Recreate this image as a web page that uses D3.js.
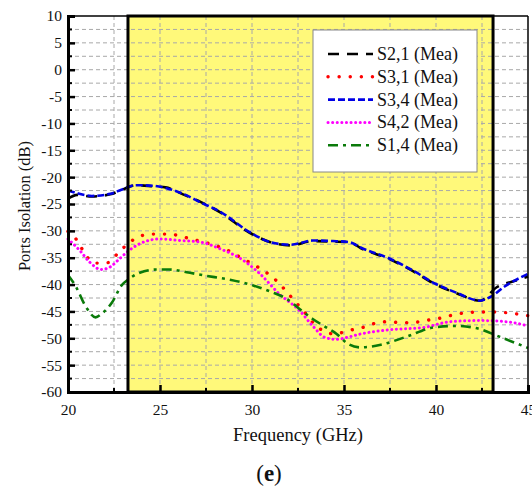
<!DOCTYPE html>
<html>
<head>
<meta charset="utf-8">
<script src="https://cdn.jsdelivr.net/npm/d3@7"></script>
<style>
  body { margin: 0; background: #fff; }
</style>
</head>
<body>
<svg id="chart" width="532" height="486"></svg>
<script>
// frequency (GHz) / isolation (dB) pairs
const s21 = [[20,-24],[20.5,-23.3],[21.3,-23.6],[22.3,-23.2],[22.9,-22.4],[23.7,-21.5],[24.6,-21.7],[25.3,-21.9],[26.25,-23.2],[27.2,-24.6],[28.3,-26.6],[29.9,-30.4],[31,-32.1],[32.1,-32.7],[33.3,-31.9],[34.4,-32],[35.3,-32.1],[35.9,-33.2],[37.5,-35.3],[38.75,-37.5],[40,-40],[41.1,-41.6],[42.4,-43],[43.3,-40.5],[44.4,-39.2],[45,-38.5]];
const s31 = [[20,-30.1],[20.56,-32.1],[20.9,-34.2],[21.5,-36],[22.2,-35.9],[22.7,-34.2],[23.3,-32.3],[23.9,-31],[24.6,-30.6],[25.4,-30.6],[26.8,-31.6],[27.5,-32.2],[28.9,-34],[29.5,-35.2],[30.2,-36.5],[31.3,-39.2],[31.8,-41],[32.3,-43],[32.8,-44.9],[33.4,-47.4],[34.5,-49.2],[35.2,-48.6],[36,-48],[36.7,-47.2],[37.4,-46.9],[38.1,-47.1],[38.9,-47],[39.6,-46.6],[40.3,-46.2],[41,-45.6],[41.75,-45.2],[42.5,-45.1],[43.2,-45.1],[44,-45.3],[45,-45.8]];
const s34 = [[20,-22.5],[20.5,-23],[21.3,-23.5],[22.3,-23.1],[22.9,-22.35],[23.7,-21.5],[24.6,-21.6],[25.4,-22.1],[26.25,-23.1],[27.2,-24.7],[28.3,-26.5],[29.9,-30.3],[31,-32.1],[32.1,-32.6],[33.3,-31.8],[34.4,-31.9],[35.3,-32.1],[35.9,-33.1],[37.5,-35.2],[38.75,-37.4],[40,-39.9],[41.1,-41.5],[42.4,-43],[42.9,-42.4],[43.8,-40.2],[45,-38]];
const s42 = [[20,-31.5],[20.65,-33.7],[21.2,-35.9],[21.8,-37.2],[22.3,-36.7],[22.8,-35.2],[23.3,-33.7],[23.9,-32.4],[25,-31.5],[26.1,-31.8],[27.2,-32.1],[28.3,-33.4],[29.35,-35.1],[30.4,-37.9],[31.5,-41.8],[32.6,-44.9],[33.3,-47.7],[34,-49.9],[34.6,-50.2],[35.2,-49.8],[35.9,-49.2],[37.5,-48.4],[39.3,-48],[40.8,-46.9],[42.4,-46.7],[43.8,-46.9],[45,-47.7]];
const s14 = [[20,-38.2],[20.4,-40.2],[21,-44.3],[21.5,-46.1],[21.8,-45.5],[22.4,-43.3],[22.9,-40.2],[23.3,-39],[23.9,-37.8],[24.8,-37.2],[25.5,-37.2],[26.45,-37.7],[27.4,-38.3],[28.8,-39.1],[30.1,-40.2],[31,-41.3],[31.9,-42.7],[32.5,-44.3],[33.3,-46.4],[33.9,-47.7],[34.6,-49.2],[35.2,-51],[35.9,-51.7],[37,-51.2],[38.4,-49.7],[39.85,-48],[41.1,-47.7],[42.4,-48.3],[43.3,-49.5],[45,-51.8]];

const seriesNames = ["S2,1 (Mea)", "S3,1 (Mea)", "S3,4 (Mea)", "S4,2 (Mea)", "S1,4 (Mea)"];
const xTicks = [20, 25, 30, 35, 40, 45];
const yTicks = [10, 5, 0, -5, -10, -15, -20, -25, -30, -35, -40, -45, -50, -55, -60];
const band = [23.26, 43.1];

const series = [
  { name: seriesNames[0], data: s21, color: "#000", dash: "11,8", width: 2.6, cap: "butt" },
  { name: seriesNames[1], data: s31, color: "#ff0000", dash: "0.1,11", width: 3.4, cap: "round" },
  { name: seriesNames[2], data: s34, color: "#0000e6", dash: "7,3", width: 2.6, cap: "butt" },
  { name: seriesNames[3], data: s42, color: "#ff00ff", dash: "0.1,4.5", width: 3, cap: "round" },
  { name: seriesNames[4], data: s14, color: "#0a7a0a", dash: "10,5,3,5", width: 2.6, cap: "butt" }
];

const serif = "Liberation Serif";
const margin = { top: 16, left: 68 };
const W = 460, H = 376;
const svg = d3.select("#chart");
const g = svg.append("g").attr("transform", `translate(${margin.left},${margin.top})`);

const x = d3.scaleLinear().domain([20, 45]).range([0, W]);
const y = d3.scaleLinear().domain([-60, 10]).range([H, 0]);

// yellow band
g.append("rect")
  .attr("x", x(band[0])).attr("y", y(10))
  .attr("width", x(band[1]) - x(band[0])).attr("height", H)
  .attr("fill", "#fff97a");

// grid
const gridX = d3.range(22.5, 45, 2.5);
const gridY = d3.range(-57.5, 10, 2.5);
g.selectAll(".gx").data(gridX).enter().append("line")
  .attr("x1", d => x(d)).attr("x2", d => x(d)).attr("y1", 0).attr("y2", H)
  .attr("stroke", "#a8a8a8").attr("stroke-width", 1).attr("stroke-dasharray", "4,3");
g.selectAll(".gy").data(gridY).enter().append("line")
  .attr("x1", 0).attr("x2", W).attr("y1", d => y(d)).attr("y2", d => y(d))
  .attr("stroke", "#a8a8a8").attr("stroke-width", 1).attr("stroke-dasharray", "4,3");

// curves
const line = d3.line().x(d => x(d[0])).y(d => y(d[1])).curve(d3.curveMonotoneX);
series.forEach(s => {
  g.append("path").datum(s.data)
    .attr("d", line)
    .attr("fill", "none")
    .attr("stroke", s.color)
    .attr("stroke-width", s.width)
    .attr("stroke-dasharray", s.dash)
    .attr("stroke-linecap", s.cap);
});

// band border
g.append("rect")
  .attr("x", x(band[0])).attr("y", y(10))
  .attr("width", x(band[1]) - x(band[0])).attr("height", H)
  .attr("fill", "none").attr("stroke", "#000").attr("stroke-width", 3);

// frame: thin top/right, thick left/bottom
g.append("line").attr("x1", 0).attr("x2", W).attr("y1", 0).attr("y2", 0).attr("stroke", "#000").attr("stroke-width", 1.5);
g.append("line").attr("x1", W).attr("x2", W).attr("y1", 0).attr("y2", H).attr("stroke", "#000").attr("stroke-width", 1.5);

// axes (plain hyphen for negatives, like the original)
const xAxis = d3.axisBottom(x).tickValues(xTicks).tickSize(-7).tickPadding(12).tickFormat(d => String(d));
const yAxis = d3.axisLeft(y).tickValues(yTicks).tickSize(-7).tickPadding(6).tickFormat(d => String(d));

const gx = g.append("g").attr("transform", `translate(0,${H})`).call(xAxis);
const gy = g.append("g").call(yAxis);
[gx, gy].forEach(a => {
  a.attr("font-family", serif).attr("font-size", 15.5);
  a.select(".domain").attr("stroke", "#000").attr("stroke-width", 3);
  a.selectAll(".tick line").attr("stroke", "#000").attr("stroke-width", 2.5);
  a.selectAll(".tick text").attr("fill", "#111");
});
// minor ticks
g.selectAll(".mx").data(d3.range(22.5, 45, 5)).enter().append("line")
  .attr("x1", d => x(d)).attr("x2", d => x(d)).attr("y1", H).attr("y2", H - 4)
  .attr("stroke", "#000").attr("stroke-width", 2);
g.selectAll(".my").data(d3.range(-57.5, 10, 5)).enter().append("line")
  .attr("x1", 0).attr("x2", 4).attr("y1", d => y(d)).attr("y2", d => y(d))
  .attr("stroke", "#000").attr("stroke-width", 2);

// legend
const leg = svg.append("g").attr("transform", "translate(313,30)");
leg.append("rect").attr("width", 164).attr("height", 142)
  .attr("fill", "#fff").attr("stroke", "#888").attr("stroke-width", 1);
series.forEach((s, i) => {
  const yy = 24 + i * 22.8;
  leg.append("line").attr("x1", 15).attr("x2", 60).attr("y1", yy).attr("y2", yy)
    .attr("stroke", s.color).attr("stroke-width", s.width).attr("stroke-dasharray", s.dash)
    .attr("stroke-linecap", s.cap);
  leg.append("text").attr("x", 64).attr("y", yy + 6)
    .attr("font-family", serif).attr("font-size", 18).attr("fill", "#111").text(s.name);
});

// titles
svg.append("text").attr("x", 298).attr("y", 441).attr("text-anchor", "middle")
  .attr("font-family", serif).attr("font-size", 18.5).attr("fill", "#111").text("Frequency (GHz)");
svg.append("text").attr("transform", "translate(30,206) rotate(-90)").attr("text-anchor", "middle")
  .attr("font-family", serif).attr("font-size", 16.5).attr("fill", "#111").text("Ports Isolation (dB)");
const lab = svg.append("text").attr("x", 269).attr("y", 481).attr("text-anchor", "middle")
  .attr("font-family", serif).attr("font-size", 23).attr("fill", "#111");
lab.append("tspan").text("(");
lab.append("tspan").attr("font-weight", "bold").text("e");
lab.append("tspan").text(")");
</script>
</body>
</html>
